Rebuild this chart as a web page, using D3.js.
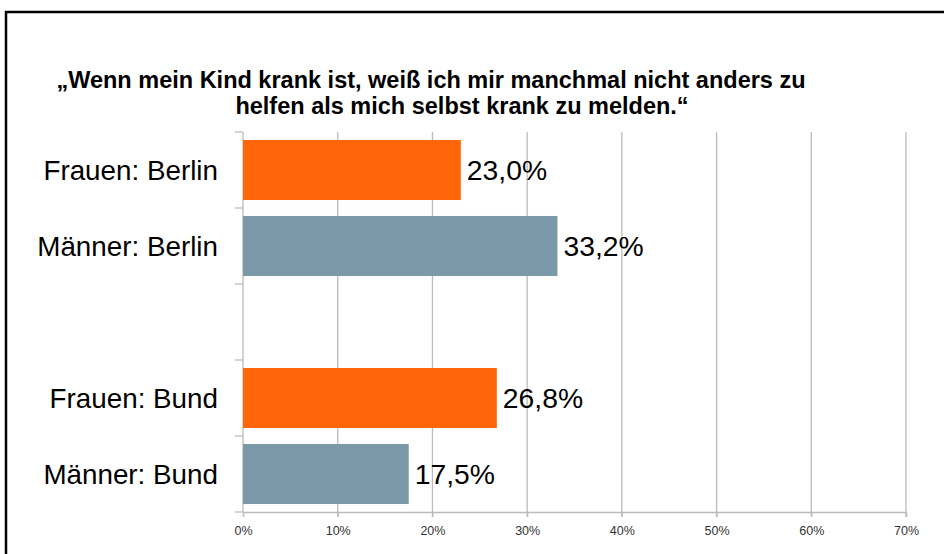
<!DOCTYPE html>
<html>
<head>
<meta charset="utf-8">
<script src="https://cdn.jsdelivr.net/npm/d3@7"></script>
<style>
  html, body { margin: 0; padding: 0; background: #fff; }
  svg { display: block; font-family: "Liberation Sans", Arial, sans-serif; }
</style>
</head>
<body>
<svg id="chart" width="944" height="554"></svg>
<script>
// Survey answers: share agreeing with the statement, by group
const categories = ["Frauen: Berlin", "Männer: Berlin", "", "Frauen: Bund", "Männer: Bund"];
const values = [23.0, 33.2, null, 26.8, 17.5];
const groups = ["Frauen", "Männer", null, "Frauen", "Männer"];
const tickValues = [0, 10, 20, 30, 40, 50, 60, 70];
const titleLines = [
  "„Wenn mein Kind krank ist, weiß ich mir manchmal nicht anders zu",
  "helfen als mich selbst krank zu melden.“"
];

const colors = { "Frauen": "#FF6609", "Männer": "#7B9AA9" };
const gridColor = "#BBBBBB";

const svg = d3.select("#chart");

// frame
svg.append("rect")
  .attr("x", 6).attr("y", 12)
  .attr("width", 960).attr("height", 600)
  .attr("fill", "none").attr("stroke", "#000").attr("stroke-width", 2.5);

// title
svg.append("text")
  .attr("x", 431).attr("y", 88)
  .attr("text-anchor", "middle")
  .attr("font-weight", "bold").attr("font-size", 23.5)
  .text(titleLines[0]);
svg.append("text")
  .attr("x", 462).attr("y", 114)
  .attr("text-anchor", "middle")
  .attr("font-weight", "bold").attr("font-size", 23.5)
  .text(titleLines[1]);

const plot = { left: 243, right: 906, top: 132, bottom: 512 };

const x = d3.scaleLinear().domain([0, 70]).range([plot.left, plot.right]);
const y = d3.scaleBand()
  .domain(d3.range(categories.length))
  .range([plot.top, plot.bottom])
  .paddingInner(0).paddingOuter(0);

// vertical gridlines
svg.append("g")
  .selectAll("line")
  .data(tickValues.slice(1))
  .join("line")
  .attr("x1", d => x(d)).attr("x2", d => x(d))
  .attr("y1", plot.top).attr("y2", plot.bottom + 5)
  .attr("stroke", gridColor).attr("stroke-width", 1.3);

// bottom axis
const xAxis = d3.axisBottom(x)
  .tickValues(tickValues)
  .tickFormat(d => d + "%")
  .tickSizeInner(5).tickSizeOuter(5).tickPadding(9);
const gx = svg.append("g")
  .attr("transform", `translate(0,${plot.bottom})`)
  .call(xAxis);
gx.select(".domain").attr("stroke", gridColor).attr("stroke-width", 1.3);
gx.selectAll(".tick line").attr("stroke", gridColor).attr("stroke-width", 1.3);
gx.selectAll(".tick text")
  .attr("fill", "#333").attr("font-size", 12.5)
  .attr("font-family", "'Liberation Sans', Arial, sans-serif");

// left category axis: ticks at band boundaries
const boundaries = d3.range(categories.length + 1).map(i => plot.top + i * y.step());
const gy = svg.append("g");
gy.append("line")
  .attr("x1", plot.left).attr("x2", plot.left)
  .attr("y1", plot.top).attr("y2", plot.bottom)
  .attr("stroke", gridColor).attr("stroke-width", 1.3);
gy.selectAll("line.tk")
  .data(boundaries)
  .join("line").attr("class", "tk")
  .attr("x1", plot.left - 8).attr("x2", plot.left)
  .attr("y1", d => d).attr("y2", d => d)
  .attr("stroke", gridColor).attr("stroke-width", 1.3);

// category labels
svg.append("g")
  .selectAll("text")
  .data(categories)
  .join("text")
  .attr("x", 218)
  .attr("y", (d, i) => y(i) + y.bandwidth() / 2)
  .attr("dy", "0.35em")
  .attr("text-anchor", "end")
  .attr("font-size", 27.8)
  .attr("fill", "#000")
  .text(d => d);

// bars
const barPad = 0.105;
const rows = values.map((v, i) => ({ v, i, g: groups[i] })).filter(d => d.v !== null);

svg.append("g")
  .selectAll("rect")
  .data(rows)
  .join("rect")
  .attr("x", x(0))
  .attr("y", d => y(d.i) + y.step() * barPad)
  .attr("width", d => x(d.v) - x(0))
  .attr("height", y.step() * (1 - 2 * barPad))
  .attr("fill", d => colors[d.g]);

// value labels
const fmt = v => v.toFixed(1).replace(".", ",") + "%";
svg.append("g")
  .selectAll("text")
  .data(rows)
  .join("text")
  .attr("x", d => x(d.v) + 6)
  .attr("y", d => y(d.i) + y.bandwidth() / 2)
  .attr("dy", "0.35em")
  .attr("font-size", 28.3)
  .attr("fill", "#000")
  .text(d => fmt(d.v));
</script>
</body>
</html>
